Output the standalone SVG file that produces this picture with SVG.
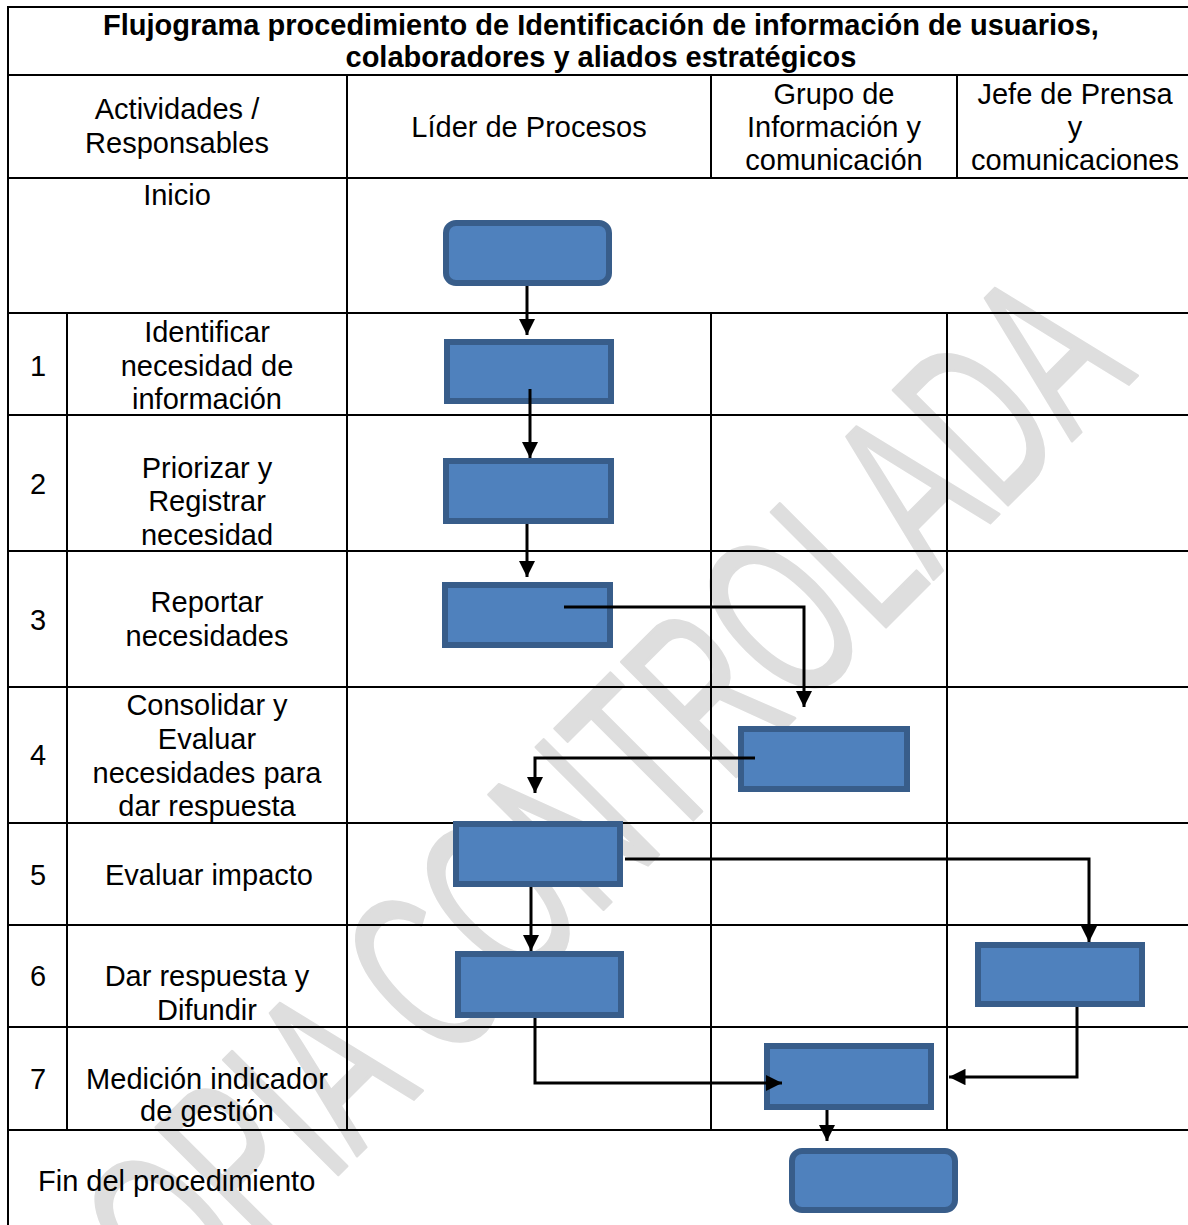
<svg xmlns="http://www.w3.org/2000/svg" width="1188" height="1225" viewBox="0 0 1188 1225">
<style>
.t{font-family:"Liberation Sans",Arial,sans-serif;font-size:29px;fill:#000;text-anchor:middle}
.tb{font-weight:bold}
.tl{text-anchor:start}
.grid line{stroke:#000;stroke-width:2}
.box{fill:#4F81BD;stroke:#385D8A;stroke-width:6}
.con path{fill:none;stroke:#000;stroke-width:3}
.wm{font-family:"Liberation Sans Narrow","Liberation Sans",sans-serif;font-size:236px;fill:#dedede;stroke:#dedede;stroke-width:3;stroke-linejoin:round}
</style>
<defs>
<marker id="ah" viewBox="0 0 10 10" refX="10" refY="5" markerWidth="5.5" markerHeight="5.5" orient="auto" markerUnits="strokeWidth">
<path d="M0,0 L10,5 L0,10 z" fill="#000"/>
</marker>
</defs>
<rect width="1188" height="1225" fill="#fff"/>
<g id="watermark">
<text class="wm" x="1138" y="375" text-anchor="end" textLength="1450" lengthAdjust="spacingAndGlyphs" transform="rotate(-45 1138 375)">COPIA CONTROLADA</text>
</g>
<g id="table" class="grid">
<line x1="8" y1="7" x2="1188" y2="7"/>
<line x1="8" y1="6" x2="8" y2="1225"/>
<line x1="8" y1="75" x2="1188" y2="75"/>
<line x1="8" y1="178" x2="1188" y2="178"/>
<line x1="8" y1="313" x2="1188" y2="313"/>
<line x1="8" y1="415" x2="1188" y2="415"/>
<line x1="8" y1="551" x2="1188" y2="551"/>
<line x1="8" y1="687" x2="1188" y2="687"/>
<line x1="8" y1="823" x2="1188" y2="823"/>
<line x1="8" y1="925" x2="1188" y2="925"/>
<line x1="8" y1="1027" x2="1188" y2="1027"/>
<line x1="8" y1="1130" x2="1188" y2="1130"/>
<line x1="347" y1="75" x2="347" y2="1130"/>
<line x1="711" y1="75" x2="711" y2="178"/>
<line x1="957" y1="75" x2="957" y2="178"/>
<line x1="67" y1="313" x2="67" y2="1130"/>
<line x1="711" y1="313" x2="711" y2="1130"/>
<line x1="947" y1="313" x2="947" y2="1130"/>
</g>
<g id="labels">
<text class="t tb" x="601" y="35">Flujograma procedimiento de Identificación de información de usuarios,</text>
<text class="t tb" x="601" y="67">colaboradores y aliados estratégicos</text>
<text class="t" x="177" y="119">Actividades /</text>
<text class="t" x="177" y="153">Responsables</text>
<text class="t" x="529" y="137">Líder de Procesos</text>
<text class="t" x="834" y="104">Grupo de</text>
<text class="t" x="834" y="137">Información y</text>
<text class="t" x="834" y="170">comunicación</text>
<text class="t" x="1075" y="104">Jefe de Prensa</text>
<text class="t" x="1075" y="137">y</text>
<text class="t" x="1075" y="170">comunicaciones</text>
<text class="t" x="177" y="205">Inicio</text>
<text class="t" x="38" y="376">1</text>
<text class="t" x="207" y="342">Identificar</text>
<text class="t" x="207" y="376">necesidad de</text>
<text class="t" x="207" y="409">información</text>
<text class="t" x="38" y="494">2</text>
<text class="t" x="207" y="478">Priorizar y</text>
<text class="t" x="207" y="511">Registrar</text>
<text class="t" x="207" y="545">necesidad</text>
<text class="t" x="38" y="630">3</text>
<text class="t" x="207" y="612">Reportar</text>
<text class="t" x="207" y="646">necesidades</text>
<text class="t" x="38" y="765">4</text>
<text class="t" x="207" y="715">Consolidar y</text>
<text class="t" x="207" y="749">Evaluar</text>
<text class="t" x="207" y="783">necesidades para</text>
<text class="t" x="207" y="816">dar respuesta</text>
<text class="t" x="38" y="885">5</text>
<text class="t" x="209" y="885">Evaluar impacto</text>
<text class="t" x="38" y="986">6</text>
<text class="t" x="207" y="986">Dar respuesta y</text>
<text class="t" x="207" y="1020">Difundir</text>
<text class="t" x="38" y="1089">7</text>
<text class="t" x="207" y="1089">Medición indicador</text>
<text class="t" x="207" y="1121">de gestión</text>
<text class="t tl" x="38" y="1191">Fin del procedimiento</text>
</g>
<g id="n_inicio"><rect class="box" x="446" y="223" width="163" height="60" rx="10"/></g>
<g id="n_1"><rect class="box" x="447" y="342" width="164" height="59"/></g>
<g id="n_2"><rect class="box" x="446" y="461" width="165" height="60"/></g>
<g id="n_3"><rect class="box" x="445" y="585" width="165" height="60"/></g>
<g id="n_4"><rect class="box" x="741" y="729" width="166" height="60"/></g>
<g id="n_5"><rect class="box" x="456" y="824" width="164" height="60"/></g>
<g id="n_6a"><rect class="box" x="458" y="954" width="163" height="61"/></g>
<g id="n_6b"><rect class="box" x="978" y="945" width="164" height="59"/></g>
<g id="n_7"><rect class="box" x="767" y="1046" width="164" height="61"/></g>
<g id="n_fin"><rect class="box" x="792" y="1151" width="163" height="59" rx="10"/></g>
<g id="connectors" class="con">
<path d="M527,286 V335" marker-end="url(#ah)"/>
<path d="M530,389 V458" marker-end="url(#ah)"/>
<path d="M527,524 V577" marker-end="url(#ah)"/>
<path d="M564,607 H804 V707" marker-end="url(#ah)"/>
<path d="M755,758 H535 V793" marker-end="url(#ah)"/>
<path d="M531,887 V951" marker-end="url(#ah)"/>
<path d="M625,859 H1089 V942" marker-end="url(#ah)"/>
<path d="M535,1018 V1083 H782" marker-end="url(#ah)"/>
<path d="M1077,1007 V1077 H949" marker-end="url(#ah)"/>
<path d="M827,1110 V1141" marker-end="url(#ah)"/>
</g>
</svg>
